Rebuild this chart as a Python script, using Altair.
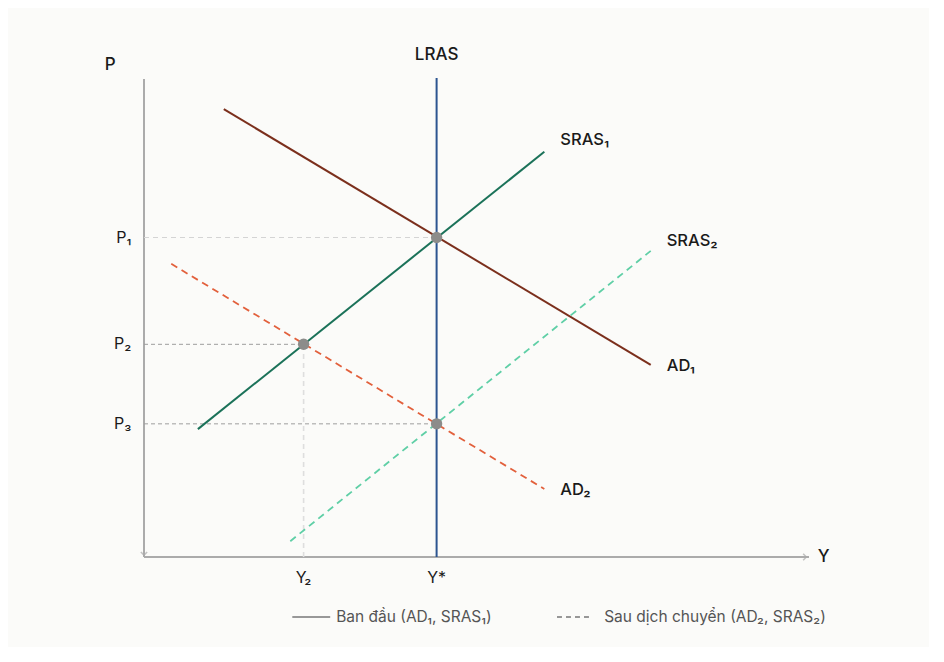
import altair as alt
import pandas as pd

# Curve endpoints (data units: Y on 0-100, P on 0-100)
ad1_x = [12.0, 76.2]
ad1_y = [93.5, 40.1]
sras1_x = [8.1, 60.2]
sras1_y = [26.7, 84.6]
ad2_x = [4.1, 60.2]
ad2_y = [61.2, 14.2]
sras2_x = [22.0, 76.2]
sras2_y = [3.3, 63.9]
lras_x = 44.0
lras_y = [0.0, 100.0]

# Equilibrium points
eq_x = [44.0, 24.0, 44.0]
eq_y = [66.7, 44.4, 27.8]

# Tick labels
p_labels = ["P₁", "P₂", "P₃"]
y_labels = ["Y₂", "Y*"]
y_label_x = [24.0, 44.0]

FONT = "Inter"
W, H = 665, 479

xs = alt.Scale(domain=[0, 100])
ys = alt.Scale(domain=[0, 100])


def X(f="x"):
    return alt.X(f"{f}:Q", scale=xs, axis=None)


def Y(f="y"):
    return alt.Y(f"{f}:Q", scale=ys, axis=None)


def seg(xv, yv, color, dash=None, width=2.0):
    df = pd.DataFrame({"x": xv, "y": yv, "o": list(range(len(xv)))})
    kw = dict(color=color, strokeWidth=width, clip=False)
    if dash:
        kw["strokeDash"] = dash
    return alt.Chart(df).mark_line(**kw).encode(x=X(), y=Y(), order="o:O")


layers = []

# axes
layers.append(seg([0, 100], [0, 0], "#ababab", width=2))
layers.append(seg([0, 0], [99.8, 0], "#ababab", width=2))
arrow_r = alt.Chart(pd.DataFrame({"x": [99.6], "y": [0]})).mark_point(
    shape="M-1,-1L0,0L-1,1", filled=False, stroke="#ababab", strokeWidth=1.5, size=40, clip=False
).encode(x=X(), y=Y())
arrow_d = alt.Chart(pd.DataFrame({"x": [0], "y": [0.4]})).mark_point(
    shape="M-1,-1L0,0L1,-1", filled=False, stroke="#ababab", strokeWidth=1.5, size=40, clip=False
).encode(x=X(), y=Y())
layers += [arrow_r, arrow_d]

# guide lines
layers.append(seg([0, eq_x[0]], [eq_y[0], eq_y[0]], "#d4d4d4", dash=[5, 4], width=1.2))
layers.append(seg([0, eq_x[1]], [eq_y[1], eq_y[1]], "#9e9e9e", dash=[4, 3], width=1.0))
layers.append(seg([0, eq_x[2]], [eq_y[2], eq_y[2]], "#9e9e9e", dash=[4, 3], width=1.0))
layers.append(seg([eq_x[1], eq_x[1]], [0, eq_y[1]], "#dedede", dash=[5, 4], width=1.6))

# curves
layers.append(seg(ad2_x, ad2_y, "#e2603c", dash=[7, 5], width=1.8))
layers.append(seg(sras2_x, sras2_y, "#5fcfa6", dash=[7, 5], width=1.8))
layers.append(seg(ad1_x, ad1_y, "#7b2f1c", width=2))
layers.append(seg(sras1_x, sras1_y, "#1b7259", width=2))
layers.append(seg([lras_x, lras_x], lras_y, "#2c5590", width=2))

# equilibrium points
pts = alt.Chart(pd.DataFrame({"x": eq_x, "y": eq_y})).mark_circle(
    color="#8c8c8a", opacity=1, size=130, clip=False
).encode(x=X(), y=Y())
layers.append(pts)


def txt(x, y, s, align="left", size=16.5, color="#1a1a1a", weight=500, baseline="middle"):
    return alt.Chart(pd.DataFrame({"x": [x], "y": [y], "t": [s]})).mark_text(
        align=align, baseline=baseline, font=FONT, fontSize=size, color=color,
        fontWeight=weight, clip=False
    ).encode(x=X(), y=Y(), text="t:N")


# curve labels
layers.append(txt(62.6, 87.1, "SRAS₁"))
layers.append(txt(78.6, 66.0, "SRAS₂"))
layers.append(txt(78.6, 39.9, "AD₁"))
layers.append(txt(62.6, 14.0, "AD₂"))
layers.append(txt(lras_x, 104.9, "LRAS", align="center", size=17))
layers.append(txt(-5.1, 102.7, "P", align="center", size=17))
layers.append(txt(102.2, 0.0, "Y", align="center", size=17))

# tick labels
for lab, yv in zip(p_labels, eq_y):
    layers.append(txt(-1.9, yv, lab, align="right", size=16, weight=400))
for lab, xv in zip(y_labels, y_label_x):
    layers.append(txt(xv, -4.4, lab, align="center", size=16, weight=400))

# legend
layers.append(seg([22.3, 28.0], [-12.5, -12.5], "#777777", width=1.5))
layers.append(txt(28.9, -12.5, "Ban đầu (AD₁, SRAS₁)", size=15.5, color="#555555", weight=400))
layers.append(seg([62.1, 67.4], [-12.5, -12.5], "#777777", dash=[5, 4], width=1.5))
layers.append(txt(69.2, -12.5, "Sau dịch chuyển (AD₂, SRAS₂)", size=15.5, color="#555555", weight=400))

chart = alt.layer(*layers).properties(
    width=W, height=H,
    autosize="none",
    padding={"left": 136, "top": 70, "right": 120, "bottom": 90},
    background="#fbfbf9",
).configure_view(stroke=None)

chart.save("out.html", embed_options={"renderer": "svg", "actions": False})
